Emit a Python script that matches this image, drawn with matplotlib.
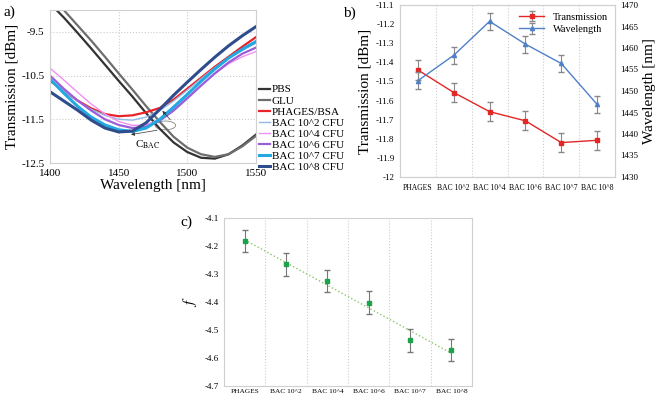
import matplotlib
matplotlib.use('Agg')
import matplotlib.pyplot as plt
from matplotlib.patches import Ellipse
import numpy as np

plt.rcParams['font.family'] = ['Liberation Serif', 'DejaVu Serif']
plt.rcParams['mathtext.fontset'] = 'stix'

# panel a) spectra, read at 10 nm steps
wl = [1400, 1410, 1420, 1430, 1440, 1450, 1460, 1470, 1480, 1490, 1500, 1510, 1520, 1530, 1540, 1550]
spectra = {
    'PBS':        [-8.85, -9.17, -9.52, -9.88, -10.25, -10.62, -10.98, -11.36, -11.72, -12.03, -12.25, -12.38, -12.40, -12.30, -12.10, -11.85],
    'GLU':        [-8.70, -9.00, -9.35, -9.70, -10.07, -10.45, -10.82, -11.20, -11.56, -11.90, -12.15, -12.30, -12.36, -12.30, -12.12, -11.88],
    'PHAGES/BSA': [-10.62, -10.85, -11.07, -11.25, -11.38, -11.43, -11.41, -11.34, -11.24, -11.05, -10.80, -10.55, -10.30, -10.07, -9.84, -9.62],
    'BAC 10^2 CFU': [-10.58, -10.85, -11.08, -11.27, -11.41, -11.50, -11.52, -11.45, -11.30, -11.08, -10.83, -10.57, -10.32, -10.10, -9.92, -9.76],
    'BAC 10^4 CFU': [-10.33, -10.60, -10.88, -11.15, -11.38, -11.55, -11.64, -11.63, -11.50, -11.27, -11.00, -10.72, -10.46, -10.23, -10.07, -9.95],
    'BAC 10^6 CFU': [-10.50, -10.80, -11.07, -11.30, -11.50, -11.63, -11.70, -11.67, -11.53, -11.30, -11.02, -10.73, -10.45, -10.20, -10.00, -9.86],
    'BAC 10^7 CFU': [-10.58, -10.90, -11.20, -11.45, -11.63, -11.74, -11.78, -11.70, -11.50, -11.22, -10.93, -10.63, -10.35, -10.10, -9.90, -9.72],
    'BAC 10^8 CFU': [-10.87, -11.08, -11.29, -11.52, -11.70, -11.79, -11.77, -11.58, -11.27, -10.95, -10.65, -10.36, -10.08, -9.82, -9.59, -9.38],
}
spec_colors = ['#333333', '#6e6e6e', '#e8232a', '#93b8e6', '#f090f0', '#9a5fd8', '#22a9e1', '#2e4d8c']
spec_widths = [1.6, 1.6, 1.6, 1.0, 1.0, 1.6, 2.2, 2.2]

# panel b) and c)
cats = ['PHAGES', 'BAC 10^2', 'BAC 10^4', 'BAC 10^6', 'BAC 10^7', 'BAC 10^8']
trans = [-11.44, -11.558, -11.658, -11.706, -11.82, -11.808]
trans_err = [0.05, 0.05, 0.05, 0.05, 0.05, 0.05]
wavel = [1452.4, 1458.3, 1466.2, 1460.9, 1456.4, 1446.9]
wavel_err = [2.0, 2.0, 2.0, 2.0, 2.0, 2.0]
fval = [-4.182, -4.266, -4.326, -4.402, -4.537, -4.571]
f_err = [0.04, 0.04, 0.04, 0.04, 0.04, 0.04]

fig = plt.figure(figsize=(6.6, 4.0), dpi=100)
frame_col = '#d0d0d0'

# ---- a)
ax = fig.add_axes([50/660, 1-163/400, 206/660, 153/400])
for (name, vals), c, lw in zip(spectra.items(), spec_colors, spec_widths):
    ax.plot(wl, vals, color=c, lw=lw, label=name)
ax.set_xlim(1400, 1550)
ax.set_ylim(-12.5, -9.0)
ax.set_xticks([1400, 1450, 1500, 1550])
ax.set_yticks([-9.5, -10.5, -11.5, -12.5])
ax.set_yticklabels(['-9.5', '-10.5', '-11.5', '-12.5'])
ax.grid(True, ls=':', color='#cccccc', lw=0.8)
ax.tick_params(length=0, labelsize=8, pad=4)
for s in ax.spines.values():
    s.set_color(frame_col)
ax.set_xlabel('Wavelength [nm]', fontsize=11, labelpad=1)
ax.set_ylabel('Transmission [dBm]', fontsize=11, labelpad=2)
# C_BAC annotation
ax.add_patch(Ellipse((1484, -11.64), 15, 0.2, fill=False, color='#888888', lw=0.6))
ax.annotate('', xy=(1480.5, -11.26), xytext=(1489, -11.56),
            arrowprops=dict(arrowstyle='-|>', color='#333333', lw=0.5, mutation_scale=5))
ax.annotate('', xy=(1457, -11.86), xytext=(1480, -11.74),
            arrowprops=dict(arrowstyle='-|>', color='#333333', lw=0.5, mutation_scale=5))
ax.text(1471, -12.08, r'C$_{\mathrm{BAC}}$', fontsize=8, ha='center', va='center')
fig.legend(*ax.get_legend_handles_labels(), loc='upper left', bbox_to_anchor=(252/660, 1-78/400),
           frameon=False, fontsize=8, handlelength=1.0, handletextpad=0.2, labelspacing=0.12,
           borderpad=0.1)

# ---- b)
x = np.arange(len(cats))
bx = fig.add_axes([400/660, 1-177/400, 215/660, 172/400])
bx.errorbar(x, trans, yerr=trans_err, color='#e32626', marker='s', ms=3, lw=1.0,
            ecolor='#888888', elinewidth=0.8, capsize=2, label='Transmission')
bx.set_ylim(-12, -11.1)
bx.set_yticks(np.arange(-12, -11.05, 0.1))
bx.set_yticklabels(['-12', '-11.9', '-11.8', '-11.7', '-11.6', '-11.5', '-11.4', '-11.3', '-11.2', '-11.1'])
bx.set_xlim(-0.5, 5.5)
bx.set_xticks(x)
bx.set_xticklabels(cats)
bx.set_xticks(x[:-1] + 0.5, minor=True)
bx.grid(True, which='minor', axis='x', ls=':', color='#cccccc', lw=0.8)
bx.tick_params(which='both', length=0, labelsize=6.5, pad=4)
bx.tick_params(axis='x', labelsize=5.5, pad=5)
bx.set_ylabel('Transmission [dBm]', fontsize=11, labelpad=3)
bx2 = bx.twinx()
bx2.errorbar(x, wavel, yerr=wavel_err, color='#4f80c8', marker='^', ms=3, lw=1.0,
             ecolor='#888888', elinewidth=0.8, capsize=2, label='Wavelength')
bx2.set_ylim(1430, 1470)
bx2.set_yticks(np.arange(1430, 1471, 5))
bx2.tick_params(length=0, labelsize=6.5, pad=4)
bx2.set_ylabel('Wavelength [nm]', fontsize=11, labelpad=3)
for a in (bx, bx2):
    for s in a.spines.values():
        s.set_color(frame_col)
h1, l1 = bx.get_legend_handles_labels()
h2, l2 = bx2.get_legend_handles_labels()
bx2.legend(h1 + h2, l1 + l2, loc='upper right', frameon=False, fontsize=7.5,
           handlelength=2.4, labelspacing=0.3, borderaxespad=0.3)

# ---- c)
cx = fig.add_axes([224/660, 14/400, 248/660, 168/400])
fit = np.polyfit(x, fval, 1)
cx.plot(x, np.polyval(fit, x), ls=':', color='#8cc56a', lw=1.0)
cx.errorbar(x, fval, yerr=f_err, color='#1aa34a', marker='s', ms=3.5, ls='none',
            ecolor='#777777', elinewidth=0.8, capsize=2)
cx.set_ylim(-4.7, -4.1)
cx.set_yticks(np.arange(-4.7, -4.05, 0.1))
cx.set_yticklabels(['-4.7', '-4.6', '-4.5', '-4.4', '-4.3', '-4.2', '-4.1'])
cx.set_xlim(-0.5, 5.5)
cx.set_xticks(x)
cx.set_xticklabels(cats)
cx.set_xticks(x[:-1] + 0.5, minor=True)
cx.grid(True, which='minor', axis='x', ls=':', color='#cccccc', lw=0.8)
cx.tick_params(which='both', length=0, labelsize=6.5, pad=4)
cx.tick_params(axis='x', labelsize=5.3, pad=2)
cx.set_ylabel('$f$', fontsize=11, labelpad=4)
for s in cx.spines.values():
    s.set_color(frame_col)

fig.text(4/660, 1-12/400, 'a)', fontsize=11, va='center')
fig.text(343/660, 1-13/400, 'b)', fontsize=11, va='center')
fig.text(180/660, 1-222/400, 'c)', fontsize=11, va='center')

fig.savefig('out.png', dpi=100)
